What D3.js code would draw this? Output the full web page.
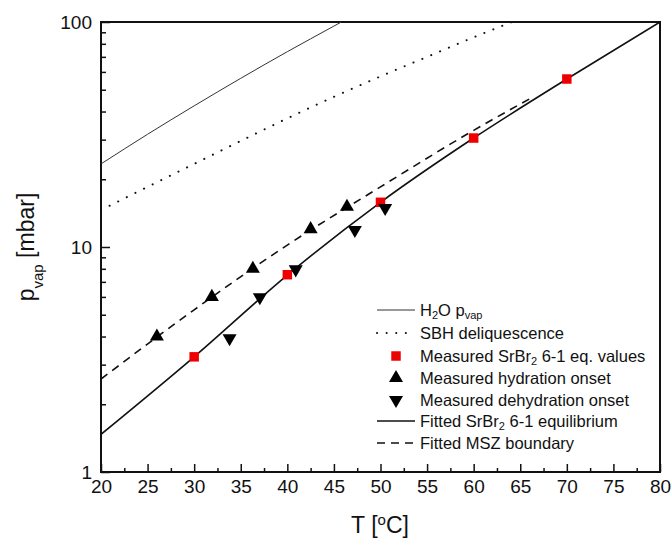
<!DOCTYPE html>
<html><head><meta charset="utf-8">
<script src="https://cdn.jsdelivr.net/npm/d3@7"></script>
<style>
body{margin:0;background:#fff;}
text{font-family:"Liberation Sans",Arial,sans-serif;fill:#111;}
</style></head>
<body><svg id="c" width="672" height="541"></svg>
<script>
// ---- data ----
const waterT = [20, 25, 30, 35, 40, 45, 45.8];
const waterP = [23.4, 31.7, 42.4, 56.2, 73.8, 95.9, 100];
const sbhT = [20, 25, 30, 35, 40, 45, 50, 55, 60, 64.1];
const sbhP = [14.6, 18.5, 23.4, 29.6, 37.3, 46.5, 57.3, 70, 85.5, 100];
const eqMeasT = [30, 40, 50, 60, 70];
const eqMeasP = [3.25, 7.53, 15.8, 30.5, 55.8];
const hydT = [26, 31.9, 36.3, 42.5, 46.4];
const hydP = [4.0, 6.0, 8.0, 12.0, 15.1];
const dehT = [33.8, 37.05, 40.9, 47.25, 50.5];
const dehP = [3.93, 5.98, 7.96, 11.9, 14.9];
const eqFitT = [20, 30, 40, 50, 60, 70, 80];
const eqFitP = [1.47, 3.25, 7.5, 15.8, 30.5, 55.8, 100];
const mszT = [20, 30, 40, 50, 60, 66];
const mszP = [2.59, 5.26, 10.2, 18.5, 33.0, 45.5];
const xTicks = [20, 25, 30, 35, 40, 45, 50, 55, 60, 65, 70, 75, 80];
const xMinor = [22.5, 27.5, 32.5, 37.5, 42.5, 47.5, 52.5, 57.5, 62.5, 67.5, 72.5, 77.5];
const yTicks = [1, 10, 100];
const yMinor = [2, 3, 4, 5, 6, 7, 8, 9, 20, 30, 40, 50, 60, 70, 80, 90];
const legendLabels = ["H2O pvap", "SBH deliquescence", "Measured SrBr2 6-1 eq. values",
  "Measured hydration onset", "Measured dehydration onset", "Fitted SrBr2 6-1 equilibrium", "Fitted MSZ boundary"];

const zip = (a, b) => a.map((v, i) => [v, b[i]]);

const svg = d3.select("#c");
const L = 101, R = 660, T = 22, B = 472;
const x = d3.scaleLinear().domain([20, 80]).range([L, R]);
const y = d3.scaleLog().domain([1, 100]).range([B, T]);

svg.append("clipPath").attr("id", "clip").append("rect")
  .attr("x", L).attr("y", T).attr("width", R - L).attr("height", B - T);

const fmt = d => String(d);
const gx = svg.append("g").attr("transform", `translate(0,${B})`)
  .call(d3.axisBottom(x).tickValues(xTicks).tickSize(-8).tickPadding(8).tickFormat(fmt));
const gxm = svg.append("g").attr("transform", `translate(0,${B})`)
  .call(d3.axisBottom(x).tickValues(xMinor).tickSize(-4).tickFormat(""));
const gy = svg.append("g").attr("transform", `translate(${L},0)`)
  .call(d3.axisLeft(y).tickValues(yTicks).tickSize(-9).tickPadding(9).tickFormat(fmt));
const gym = svg.append("g").attr("transform", `translate(${L},0)`)
  .call(d3.axisLeft(y).tickValues(yMinor).tickSize(-5).tickFormat(""));
[gx, gxm, gy, gym].forEach(g => {
  g.select(".domain").remove();
  g.selectAll("line").attr("stroke", "#111").attr("stroke-width", 1.5);
  g.selectAll("text").style("font-family", '"Liberation Sans",Arial,sans-serif')
    .style("font-size", "19px").attr("fill", "#111");
});
gy.selectAll("text").attr("dy", "0.32em");

svg.append("rect").attr("x", L).attr("y", T).attr("width", R - L).attr("height", B - T)
  .attr("fill", "none").attr("stroke", "#111").attr("stroke-width", 2);

const yl = svg.append("text").attr("transform", `translate(34,${(T + B) / 2}) rotate(-90)`)
  .attr("text-anchor", "middle").style("font-size", "23px");
yl.append("tspan").text("p");
yl.append("tspan").text("vap").attr("baseline-shift", "sub").style("font-size", "15px");
yl.append("tspan").text(" [mbar]");

const xl = svg.append("text").attr("x", 380).attr("y", 533)
  .attr("text-anchor", "middle").style("font-size", "23px");
xl.append("tspan").text("T [");
xl.append("tspan").text("o").attr("baseline-shift", "super").style("font-size", "15px");
xl.append("tspan").text("C]");

const line = d3.line().x(d => x(d[0])).y(d => y(d[1])).curve(d3.curveMonotoneX);
const plot = svg.append("g").attr("clip-path", "url(#clip)");
plot.append("path").attr("d", line(zip(waterT, waterP))).attr("fill", "none")
  .attr("stroke", "#333").attr("stroke-width", 1);
plot.append("path").attr("d", line(zip(sbhT, sbhP))).attr("fill", "none")
  .attr("stroke", "#111").attr("stroke-width", 2).attr("stroke-linecap", "round")
  .attr("stroke-dasharray", "0.1 9.5");
plot.append("path").attr("d", line(zip(eqFitT, eqFitP))).attr("fill", "none")
  .attr("stroke", "#111").attr("stroke-width", 1.6);
plot.append("path").attr("d", line(zip(mszT, mszP))).attr("fill", "none")
  .attr("stroke", "#111").attr("stroke-width", 1.6).attr("stroke-dasharray", "8 6");

const sq = d3.symbol().type(d3.symbolSquare).size(90);
const tri = d3.symbol().type(d3.symbolTriangle).size(85);
plot.selectAll(".sq").data(zip(eqMeasT, eqMeasP)).join("path")
  .attr("d", sq).attr("transform", d => `translate(${x(d[0])},${y(d[1])})`).attr("fill", "#ee0000");
plot.selectAll(".up").data(zip(hydT, hydP)).join("path")
  .attr("d", tri).attr("transform", d => `translate(${x(d[0])},${y(d[1])})`).attr("fill", "#000");
plot.selectAll(".dn").data(zip(dehT, dehP)).join("path")
  .attr("d", tri).attr("transform", d => `translate(${x(d[0])},${y(d[1])}) rotate(180)`).attr("fill", "#000");

const lg = svg.append("g");
const rows = [310, 333, 356, 378, 400, 421, 443];
const lx0 = 377, lx1 = 415, tx = 420;
const fs = "16.5px";
function addText(i, parts) {
  const t = lg.append("text").attr("x", tx).attr("y", rows[i]).attr("dy", "0.35em").style("font-size", fs);
  parts.forEach(p => {
    const s = t.append("tspan").text(p[0]);
    if (p[1]) s.attr("baseline-shift", "-3px").style("font-size", "11px");
  });
}
lg.append("line").attr("x1", lx0).attr("x2", lx1).attr("y1", rows[0]).attr("y2", rows[0]).attr("stroke", "#333").attr("stroke-width", 1);
addText(0, [["H"], ["2", 1], ["O p"], ["vap", 1]]);
lg.append("line").attr("x1", lx0).attr("x2", lx1).attr("y1", rows[1]).attr("y2", rows[1]).attr("stroke", "#111")
  .attr("stroke-width", 2).attr("stroke-linecap", "round").attr("stroke-dasharray", "0.1 9.5");
addText(1, [[legendLabels[1]]]);
lg.append("path").attr("d", sq).attr("transform", `translate(396,${rows[2]})`).attr("fill", "#ee0000");
addText(2, [["Measured SrBr"], ["2", 1], [" 6-1 eq. values"]]);
lg.append("path").attr("d", tri).attr("transform", `translate(396,${rows[3]})`).attr("fill", "#000");
addText(3, [[legendLabels[3]]]);
lg.append("path").attr("d", tri).attr("transform", `translate(396,${rows[4]}) rotate(180)`).attr("fill", "#000");
addText(4, [[legendLabels[4]]]);
lg.append("line").attr("x1", lx0).attr("x2", lx1).attr("y1", rows[5]).attr("y2", rows[5]).attr("stroke", "#111").attr("stroke-width", 1.6);
addText(5, [["Fitted SrBr"], ["2", 1], [" 6-1 equilibrium"]]);
lg.append("line").attr("x1", lx0).attr("x2", lx1).attr("y1", rows[6]).attr("y2", rows[6]).attr("stroke", "#111")
  .attr("stroke-width", 1.6).attr("stroke-dasharray", "8 6");
addText(6, [[legendLabels[6]]]);
</script></body></html>
